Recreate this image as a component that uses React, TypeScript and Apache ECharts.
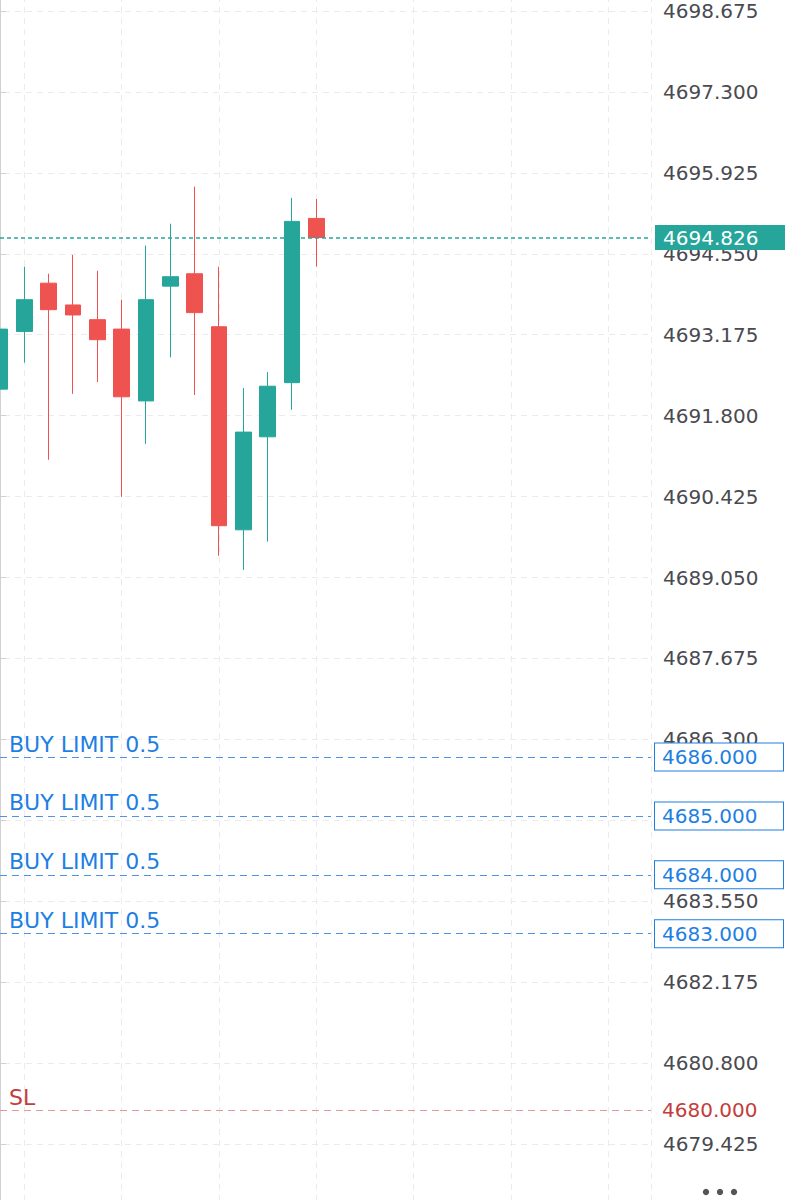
import React, { useEffect, useRef } from 'react';
import * as echarts from 'echarts';

// Candles (left to right)
const candleOpen = [4692.25, 4693.23, 4694.05, 4693.68, 4693.43, 4693.27, 4692.05, 4694.0, 4694.21, 4693.31, 4689.86, 4691.44, 4692.36, 4695.15];
const candleClose = [4693.27, 4693.77, 4693.6, 4693.51, 4693.09, 4692.12, 4693.77, 4694.16, 4693.55, 4689.93, 4691.52, 4692.3, 4695.1, 4694.826];
const candleLow = [4692.2, 4692.7, 4691.05, 4692.17, 4692.37, 4690.42, 4691.32, 4692.79, 4692.15, 4689.42, 4689.18, 4689.66, 4691.9, 4694.33];
const candleHigh = [4693.3, 4694.33, 4694.21, 4694.53, 4694.26, 4693.77, 4694.69, 4695.06, 4695.69, 4694.33, 4692.27, 4692.54, 4695.5, 4695.48];

const currentPrice = 4694.826;
const buyLimitPrices = [4686, 4685, 4684, 4683];
const buyLimitText = 'BUY LIMIT 0.5';
const stopLossPrice = 4680;
const stopLossText = 'SL';

// Axis ranges / tick steps
const Y_MIN = 4678.05;
const Y_MAX = 4700.05;
const Y_STEP = 1.375;
const X_MIN = -3;
const X_MAX = 26.75;
const X_STEP = 4;
const X_VISIBLE_START = 0;

const TEAL = '#26a69a';
const RED = '#ef5350';
const BLUE = '#1e7fe3';
const BLUE_LINE = '#4f93e9';
const SL_RED = '#c43c3c';
const SL_LINE = '#e29a9a';
const FONT = 'DejaVu Sans';

export default function App() {
  const ref = useRef<HTMLDivElement>(null);

  useEffect(() => {
    if (!ref.current) return;
    const chart = echarts.init(ref.current, undefined, { renderer: 'svg' });

    const data = candleOpen.map((o, i) => [i, o, candleClose[i], candleLow[i], candleHigh[i]]);

    const sideLabel = (text: string, color: string) => ({
      show: true,
      position: 'insideStartTop',
      formatter: text,
      color,
      fontSize: 22,
      fontFamily: FONT,
      distance: [9, 2],
    });

    const boxLabel = (value: number, color: string, bg: string, border?: string) => ({
      show: true,
      position: 'end',
      formatter: value.toFixed(3),
      color,
      fontSize: 20,
      fontFamily: FONT,
      backgroundColor: bg,
      borderColor: border || bg,
      borderWidth: border ? 1 : 0,
      width: 114,
      align: 'left',
      padding: [4, 7, 3, 7],
      distance: 4,
    });

    const level = (value: number, lineStyle: any, label: any) => [
      { coord: [X_VISIBLE_START, value], lineStyle, label },
      { coord: [X_MAX, value] },
    ];
    const hidden = { color: 'rgba(0,0,0,0)', width: 1 };

    const markData: any[] = [];
    const tealStyle = { color: TEAL, type: [4, 3], width: 1.5 };
    markData.push(level(currentPrice, tealStyle, { ...boxLabel(currentPrice, '#ffffff', TEAL), padding: [3, 8, 2, 8] }));
    const blueStyle = { color: BLUE_LINE, type: [7, 5], width: 1 };
    buyLimitPrices.forEach((p) => {
      markData.push(level(p, blueStyle, boxLabel(p, BLUE, '#ffffff', BLUE)));
      markData.push(level(p, hidden, sideLabel(buyLimitText, BLUE)));
    });
    const redStyle = { color: SL_LINE, type: [7, 5], width: 1 };
    markData.push(level(stopLossPrice, redStyle, boxLabel(stopLossPrice, SL_RED, '#ffffff')));
    markData.push(level(stopLossPrice, hidden, sideLabel(stopLossText, SL_RED)));

    chart.setOption({
      animation: false,
      backgroundColor: '#ffffff',
      grid: { left: -73, right: 138, top: -70, bottom: -25, containLabel: false, outerBoundsMode: 'none' },
      xAxis: {
        type: 'value',
        min: X_MIN,
        max: X_MAX,
        interval: X_STEP,
        axisLine: { show: false },
        axisTick: { show: false },
        axisLabel: { show: false },
        splitLine: { show: true, lineStyle: { color: '#ebebeb', type: [6, 5], width: 1 } },
      },
      yAxis: {
        type: 'value',
        position: 'right',
        min: Y_MIN,
        max: Y_MAX,
        interval: Y_STEP,
        axisLine: { show: true, lineStyle: { color: '#d0d0d0', width: 2 } },
        axisTick: { show: true, length: 6, lineStyle: { color: '#d0d0d0', width: 1 } },
        axisLabel: {
          margin: 12,
          color: '#4a4a50',
          fontSize: 20,
          fontFamily: FONT,
          showMinLabel: false,
          showMaxLabel: false,
          formatter: (v: number) => v.toFixed(3),
        },
        splitLine: { show: true, lineStyle: { color: '#ebebeb', type: [6, 5], width: 1 } },
      },
      graphic: [
        { type: 'rect', left: 0, top: 0, shape: { width: 1, height: 1200 }, style: { fill: '#d6d6d6' }, silent: true },
        { type: 'circle', x: 706, y: 1192, shape: { r: 3.2 }, style: { fill: '#555' }, silent: true },
        { type: 'circle', x: 720, y: 1192, shape: { r: 3.2 }, style: { fill: '#555' }, silent: true },
        { type: 'circle', x: 734, y: 1192, shape: { r: 3.2 }, style: { fill: '#555' }, silent: true },
      ],
      series: [
        {
          type: 'candlestick',
          encode: { x: 0, y: [1, 2, 3, 4] },
          data,
          barWidth: 16,
          itemStyle: {
            color: TEAL,
            color0: RED,
            borderColor: TEAL,
            borderColor0: RED,
            borderWidth: 1,
          },
          markLine: {
            silent: true,
            symbol: 'none',
            animation: false,
            data: markData,
          },
        },
      ],
    });

    return () => chart.dispose();
  }, []);

  return (
    <div
      ref={ref}
      style={{ position: 'absolute', left: 0, top: 0, width: 789, height: 1200 }}
    />
  );
}
